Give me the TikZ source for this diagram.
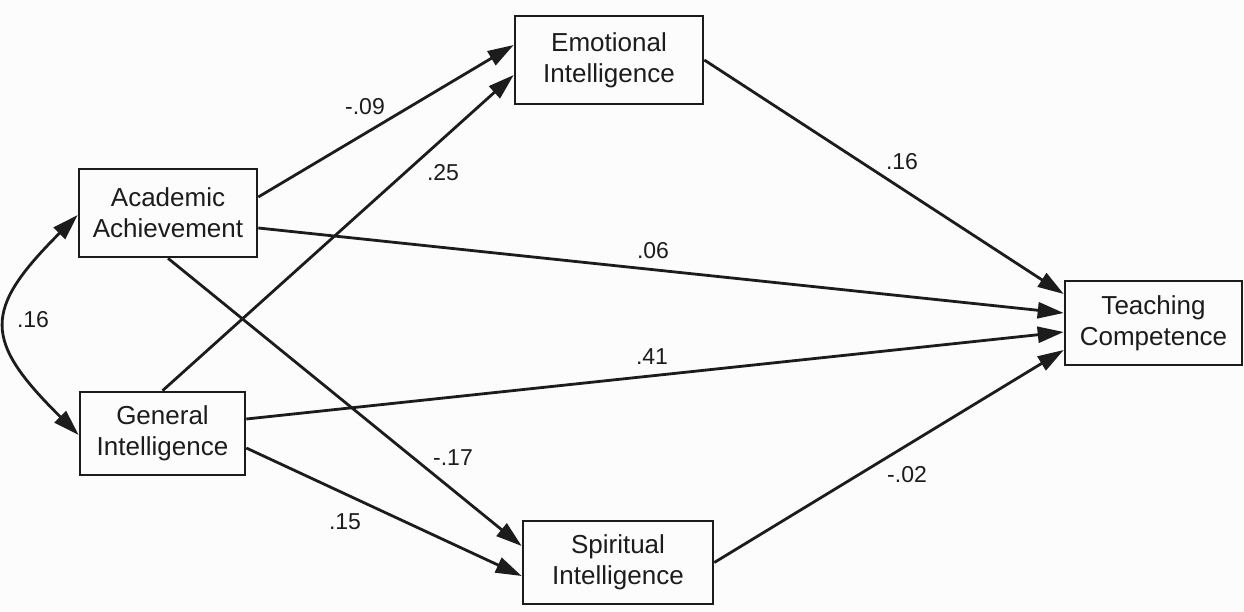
\documentclass[tikz,border=0pt]{standalone}
\usepackage{fontspec}
\setmainfont{Liberation Sans}
\usetikzlibrary{arrows.meta,calc}
\definecolor{ink}{HTML}{1C1C1C}
\definecolor{paper}{HTML}{FCFCFC}
\begin{document}
\begin{tikzpicture}[x=1pt,y=-1pt,
  varbox/.style={draw=ink,line width=2.6pt,text=ink,align=center,inner sep=0pt,
    font=\fontsize{26}{31}\selectfont},
  path/.style={draw=ink,line width=2.8pt,-{Triangle[length=26pt,width=16pt]}},
  coef/.style={text=ink,inner sep=0pt,font=\fontsize{23}{27}\selectfont}]
\fill[paper] (0,0) rectangle (1244,612);
\useasboundingbox (0,0) rectangle (1244,612);
% boxes
\node[varbox,minimum width=178pt,minimum height=88pt] (aa) at (168,213) {Academic\\Achievement};
\node[varbox,minimum width=165pt,minimum height=83pt] (gi) at (162.5,433.5) {General\\Intelligence};
\node[varbox,minimum width=188pt,minimum height=88pt] (ei) at (609,60) {Emotional\\Intelligence};
\node[varbox,minimum width=177pt,minimum height=84pt] (tc) at (1153.5,323) {Teaching\\Competence};
\node[varbox,minimum width=190pt,minimum height=83pt] (si) at (618,562.5) {Spiritual\\Intelligence};
% paths
\draw[path] ([yshift=16pt]aa.east) -- ([yshift=15pt]ei.west);
\draw[path] (gi.north) -- ([yshift=-15pt]ei.west);
\draw[path] ([yshift=-15pt]aa.east) -- ([yshift=10pt]tc.west);
\draw[path] ([yshift=14.5pt]gi.east) -- ([yshift=-9pt]tc.west);
\draw[path] (ei.east) -- ([yshift=29pt]tc.west);
\draw[path] (si.east) -- ([yshift=-27pt]tc.west);
\draw[path] (aa.south) -- ([yshift=16.5pt]si.west);
\draw[path] ([yshift=-14.5pt]gi.east) -- ([yshift=-13.5pt]si.west);
\draw[path,{Triangle[length=26pt,width=16pt]}-{Triangle[length=26pt,width=16pt]}]
  ([yshift=-2pt]aa.west) .. controls +(-95,95) and +(-96,-95) .. ([yshift=-1.5pt]gi.west);
% coefficients
\node[coef] (l1) at (365,107) {-.09};
\node[coef] (l2) at (443,173) {.25};
\node[coef] (l3) at (902,162) {.16};
\node[coef] (l4) at (653,251) {.06};
\node[coef] (l5) at (652,357) {.41};
\node[coef] (l6) at (453,458) {-.17};
\node[coef] (l7) at (907,475) {-.02};
\node[coef] (l8) at (345,522) {.15};
\node[coef] (l9) at (33,320) {.16};
\end{tikzpicture}
\end{document}
